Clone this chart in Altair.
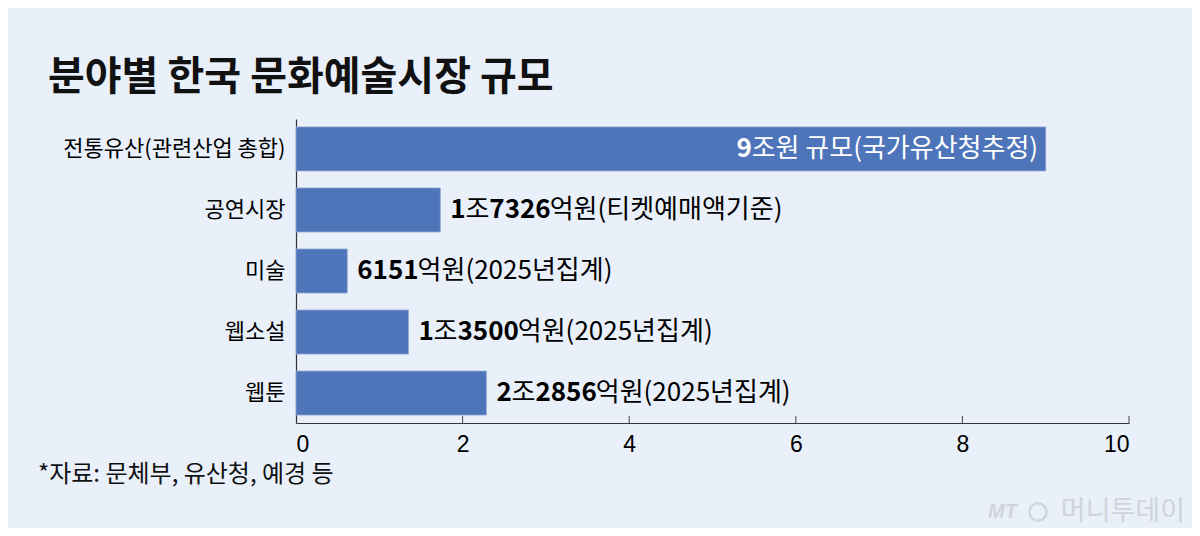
import altair as alt
import pandas as pd

# ---- data ----
categories = ["전통유산(관련산업 총합)", "공연시장", "미술", "웹소설", "웹툰"]
values = [9.0, 1.7326, 0.6151, 1.35, 2.2856]
label_parts = [
    [("9", True), ("조원 규모(국가유산청추정)", False)],
    [("1", True), ("조", False), ("7326", True), ("억원(티켓예매액기준)", False)],
    [("6151", True), ("억원(2025년집계)", False)],
    [("1", True), ("조", False), ("3500", True), ("억원(2025년집계)", False)],
    [("2", True), ("조", False), ("2856", True), ("억원(2025년집계)", False)],
]
label_inside = [True, False, False, False, False]
x_ticks = [0, 2, 4, 6, 8, 10]
title_text = "분야별 한국 문화예술시장 규모"
source_text = "*자료: 문체부, 유산청, 예경 등"
logo_text = "머니투데이"

FONT = "Noto Sans CJK KR"
LABEL_FS = 26
W, H = 833, 304
XMAX = 10
BG = "#e9f0fa"
BAR = "#4e74ba"


def char_w(ch, bold):
    if "\uac00" <= ch <= "\ud7a3":
        return 0.92
    if ch.isdigit():
        return 0.58 if bold else 0.555
    if ch in "()":
        return 0.31
    if ch == " ":
        return 0.224
    return 0.5


def seg_w(s, bold):
    return sum(char_w(c, bold) for c in s) * LABEL_FS


bars = pd.DataFrame({"cat": categories, "val": values})

px_to_val = XMAX / W
rows = []
for cat, val, parts, inside in zip(categories, values, label_parts, label_inside):
    total = sum(seg_w(t, b) for t, b in parts)
    pos = (-9 - total) if inside else 10
    for t, b in parts:
        rows.append({"cat": cat, "xpos": val + pos * px_to_val, "txt": t, "bold": b,
                     "col": "#ffffff" if inside else "#000000"})
        pos += seg_w(t, b)
segs = pd.DataFrame(rows)

ydef = alt.Y("cat:N", sort=categories,
             scale=alt.Scale(paddingInner=0.279, paddingOuter=0.13),
             axis=alt.Axis(title=None, ticks=False, labelFontSize=22, labelFont=FONT,
                           labelColor="#000000", labelPadding=11, labelLimit=400,
                           domainColor="#333333", domainWidth=1.2))
xdef = alt.X("val:Q", scale=alt.Scale(domain=[0, XMAX], nice=False),
             axis=alt.Axis(title=None, values=x_ticks, format="d", ticks=False, grid=False,
                           labelFontSize=23, labelFont="Liberation Sans", labelColor="#000000",
                           labelPadding=10, domainColor="#333333", domainWidth=1.2,
                           labelFontWeight="normal"))

bar_layer = alt.Chart(bars).mark_bar(color=BAR, stroke="#8fa6d3", strokeWidth=0.8).encode(
    x=xdef, y=ydef)

tick_df = pd.DataFrame({"val": x_ticks[1:]})
tick_layer = alt.Chart(tick_df).mark_rule(color="#444444", strokeWidth=1).encode(
    x=alt.X("val:Q"), y=alt.value(H - 7), y2=alt.value(H))


def seg_layer(bold):
    return alt.Chart(segs[segs["bold"] == bold]).mark_text(
        align="left", baseline="middle", font=FONT, fontSize=LABEL_FS,
        fontWeight="bold" if bold else "normal").encode(
        x=alt.X("xpos:Q"), y=alt.Y("cat:N", sort=categories),
        text="txt:N", color=alt.Color("col:N", scale=None))


title_layer = alt.Chart(pd.DataFrame({"t": [title_text]})).mark_text(
    align="left", baseline="middle", font=FONT, fontSize=40, fontWeight="bold", color="#111111"
).encode(x=alt.value(-248), y=alt.value(-41), text="t:N")

source_layer = alt.Chart(pd.DataFrame({"t": [source_text]})).mark_text(
    align="left", baseline="middle", font=FONT, fontSize=24, color="#111111"
).encode(x=alt.value(-258), y=alt.value(356), text="t:N")

logo_layer = alt.Chart(pd.DataFrame({"t": [logo_text]})).mark_text(
    align="right", baseline="middle", font=FONT, fontSize=27, color="#cfd4dc"
).encode(x=alt.value(889), y=alt.value(393), text="t:N")

mt_layer = alt.Chart(pd.DataFrame({"t": ["MT"]})).mark_text(
    align="left", baseline="middle", font="Liberation Sans", fontSize=20, fontStyle="italic",
    fontWeight="bold", color="#cfd4dc"
).encode(x=alt.value(692), y=alt.value(393), text="t:N")

circ_layer = alt.Chart(pd.DataFrame({"t": ["o"]})).mark_point(
    shape="circle", size=300, filled=False, color="#c5cbd4", strokeWidth=2.5
).encode(x=alt.value(742), y=alt.value(393))

chart = alt.layer(
    bar_layer, tick_layer, seg_layer(True), seg_layer(False),
    title_layer, source_layer, logo_layer, mt_layer, circ_layer
).properties(
    width=W, height=H, background=BG,
    padding={"left": 288, "top": 111, "right": 63, "bottom": 105},
    autosize=alt.AutoSizeParams(type="none"),
).configure_view(stroke=None)

chart.save("out.html", embed_options={"renderer": "svg", "actions": False})
